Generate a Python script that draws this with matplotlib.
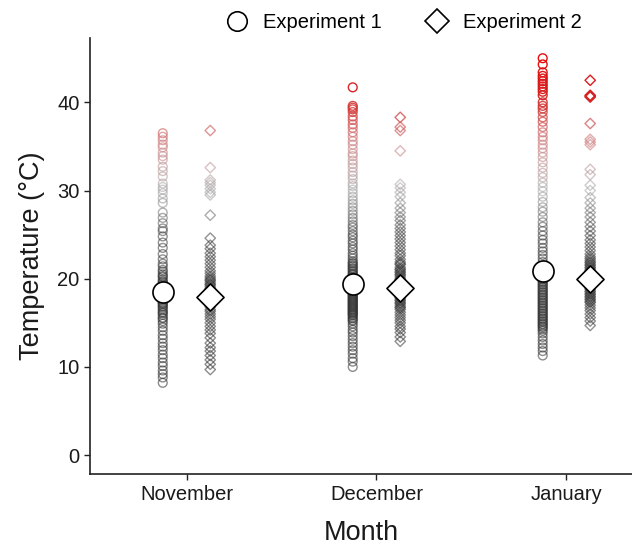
import numpy as np
import matplotlib
matplotlib.use("Agg")
import matplotlib.pyplot as plt
from matplotlib.colors import LinearSegmentedColormap, Normalize
from matplotlib.lines import Line2D

plt.rcParams['font.family'] = ['Liberation Sans', 'DejaVu Sans']

months = ["November", "December", "January"]
experiments = ["Experiment 1", "Experiment 2"]

nov_e1 = [36.5, 36.1, 35.7, 35.2, 34.9, 34.3, 33.9, 33.5, 32.7, 32.2, 31.6, 30.8, 30.4, 30.1,
          29.7, 29.1, 28.6, 27.5, 26.9, 26.3, 25.7, 25.4, 24.8, 24.1, 23.5, 22.8, 22.2, 21.7,
          21.4, 21.0, 20.8, 20.5, 20.3, 20.2, 19.9, 19.7, 19.6, 19.4, 19.2, 19.1, 18.9, 18.7,
          18.5, 18.4, 18.2, 18.1, 18.0, 17.8, 17.7, 17.5, 17.3, 17.2, 17.1, 16.9, 16.8, 16.6,
          16.4, 16.2, 16.1, 15.9, 15.6, 15.5, 15.2, 14.9, 14.5, 14.1, 13.6, 13.2, 12.7, 12.3,
          11.9, 11.4, 11.0, 10.5, 10.1, 9.6, 9.2, 8.8, 8.2]
nov_e2 = [36.8, 32.6, 31.2, 30.9, 30.6, 30.2, 29.8, 29.5, 27.2, 24.6, 23.8, 23.4, 22.9, 22.5,
          22.1, 21.7, 21.3, 20.9, 20.6, 20.3, 20.1, 19.9, 19.8, 19.6, 19.4, 19.3, 19.1, 18.9,
          18.8, 18.6, 18.4, 18.3, 18.2, 17.9, 17.8, 17.7, 17.5, 17.3, 17.1, 17.0, 16.8, 16.5,
          16.3, 16.0, 15.7, 15.4, 15.0, 14.6, 14.2, 13.8, 13.3, 12.7, 12.2, 11.8, 11.3, 10.8,
          10.3, 9.7]
dec_e1 = [41.7, 39.6, 39.4, 39.2, 38.9, 38.4, 38.0, 37.5, 37.1, 36.6, 36.1, 35.6, 35.2, 34.7,
          34.2, 33.9, 33.4, 33.0, 32.6, 32.1, 31.7, 31.3, 30.8, 30.5, 30.1, 29.7, 29.3, 28.9,
          28.5, 28.1, 27.7, 27.3, 26.9, 26.5, 26.1, 25.8, 25.4, 25.0, 24.7, 24.3, 24.0, 23.6,
          23.3, 22.9, 22.6, 22.3, 22.0, 21.8, 21.7, 21.5, 21.4, 21.2, 21.1, 20.9, 20.8, 20.6,
          20.5, 20.4, 20.2, 20.1, 19.9, 19.8, 19.7, 19.5, 19.4, 19.3, 19.2, 19.0, 18.9, 18.8,
          18.7, 18.6, 18.5, 18.4, 18.3, 18.2, 18.1, 18.0, 17.9, 17.8, 17.7, 17.6, 17.5, 17.4,
          17.3, 17.2, 17.1, 17.0, 16.9, 16.8, 16.7, 16.6, 16.5, 16.4, 16.3, 16.2, 16.1, 16.0,
          15.9, 15.8, 15.6, 15.5, 15.3, 15.2, 14.9, 14.6, 14.2, 13.9, 13.5, 13.1, 12.7, 12.3,
          11.9, 11.5, 11.0, 10.6, 10.0]
dec_e2 = [38.3, 37.2, 36.8, 34.5, 30.7, 30.3, 29.8, 29.3, 28.6, 28.0, 27.5, 27.0, 26.6, 26.1,
          25.7, 25.3, 24.9, 24.5, 24.1, 23.7, 23.3, 22.9, 22.6, 22.2, 21.9, 21.7, 21.6, 21.3,
          21.1, 21.0, 20.8, 20.7, 20.5, 20.4, 20.2, 20.0, 19.9, 19.8, 19.7, 19.5, 19.4, 19.3,
          19.2, 19.0, 18.9, 18.7, 18.6, 18.5, 18.3, 18.2, 18.0, 17.9, 17.8, 17.6, 17.5, 17.3,
          17.2, 17.0, 16.8, 16.7, 16.5, 16.2, 15.9, 15.6, 15.3, 15.0, 14.6, 14.3, 13.9, 13.4,
          12.9]
jan_e1 = [45.0, 44.3, 43.4, 43.0, 42.7, 42.4, 42.1, 41.8, 41.5, 41.2, 40.8, 40.0, 39.6, 39.3,
          38.9, 38.3, 37.8, 37.2, 36.6, 36.1, 35.7, 35.2, 34.8, 34.3, 33.8, 33.2, 32.6, 32.0,
          31.5, 30.9, 30.4, 29.9, 29.3, 28.7, 28.1, 27.6, 27.0, 26.4, 25.9, 25.4, 24.9, 24.4,
          24.0, 23.5, 23.1, 22.7, 22.3, 21.9, 21.5, 21.2, 20.9, 20.7, 20.5, 20.3, 20.2, 20.0,
          19.9, 19.7, 19.6, 19.4, 19.3, 19.1, 19.0, 18.8, 18.7, 18.5, 18.4, 18.2, 18.1, 17.9,
          17.8, 17.6, 17.5, 17.3, 17.2, 17.0, 16.9, 16.7, 16.6, 16.4, 16.3, 16.1, 16.0, 15.8,
          15.7, 15.5, 15.4, 15.2, 15.1, 14.9, 14.8, 14.6, 14.5, 14.3, 14.1, 13.8, 13.4, 13.0,
          12.6, 12.2, 11.8, 11.3]
jan_e2 = [42.5, 40.8, 40.7, 40.6, 37.6, 35.8, 35.5, 35.2, 32.4, 31.8, 30.6, 30.0, 29.2, 28.6,
          28.0, 27.5, 27.0, 26.4, 25.9, 25.4, 24.9, 24.4, 24.0, 23.6, 23.2, 22.8, 22.5, 22.3,
          22.1, 21.9, 21.8, 21.6, 21.5, 21.3, 21.2, 21.0, 20.9, 20.7, 20.6, 20.4, 20.3, 20.1,
          20.0, 19.8, 19.7, 19.5, 19.4, 19.2, 19.1, 18.9, 18.8, 18.6, 18.5, 18.3, 18.2, 18.0,
          17.9, 17.7, 17.6, 17.4, 17.3, 17.0, 16.7, 16.4, 16.0, 15.6, 15.2, 14.7]

means_e1 = [18.5, 19.4, 20.9]
means_e2 = [17.9, 18.9, 20.0]

data_e1 = [nov_e1, dec_e1, jan_e1]
data_e2 = [nov_e2, dec_e2, jan_e2]

vmin, vmax = 8.0, 45.0
stops = [(8.0, '#2e2e2e'), (25.0, '#3a3a3a'), (30.0, '#a8a8a8'),
         (35.0, '#cf8a8a'), (40.5, '#d42020'), (45.0, '#e60000')]
cmap = LinearSegmentedColormap.from_list(
    'temp', [((v - vmin) / (vmax - vmin), c) for v, c in stops])
norm = Normalize(vmin, vmax)

fig = plt.figure(figsize=(6.32, 5.5), dpi=100)
ax = fig.add_axes([0.1424, 0.138, 0.8576, 0.793])

offset = 0.125
for i in range(3):
    for data, dx, mk, sz in [(data_e1[i], -offset, 'o', 40), (data_e2[i], offset, 'D', 28)]:
        vals = np.array(data)
        cols = cmap(norm(vals))
        cols[:, 3] = np.interp(vals, [8, 30, 36, 41], [0.55, 0.55, 0.65, 0.95])
        ax.scatter(np.full(len(vals), i + dx), vals, marker=mk, s=sz,
                   facecolors='none', edgecolors=cols, linewidths=1.0, zorder=2)

x = np.arange(3)
ax.scatter(x - offset, means_e1, marker='o', s=230, facecolor='white',
           edgecolor='black', linewidth=1.2, zorder=5)
ax.scatter(x + offset, means_e2, marker='D', s=190, facecolor='white',
           edgecolor='black', linewidth=1.2, zorder=5)

ax.set_xlim(-0.508, 2.345)
ax.set_ylim(-2.15, 47.3)
ax.set_xticks(x)
ax.set_xticklabels(months)
ax.set_yticks([0, 10, 20, 30, 40])
for s in ['top', 'right']:
    ax.spines[s].set_visible(False)
for s in ['left', 'bottom']:
    ax.spines[s].set_linewidth(1.2)
    ax.spines[s].set_color('#222222')
ax.tick_params(axis='both', labelsize=14.5, length=4, width=1.0, color='#222222',
               labelcolor='#1a1a1a')
ax.set_xlabel("Month", fontsize=19.5, labelpad=12, color='#1a1a1a')
ax.set_ylabel("Temperature (°C)", fontsize=19.5, labelpad=9, color='#1a1a1a')

handles = [Line2D([], [], marker='o', linestyle='none', markersize=14,
                  markerfacecolor='white', markeredgecolor='black', markeredgewidth=1.2),
           Line2D([], [], marker='D', linestyle='none', markersize=12,
                  markerfacecolor='white', markeredgecolor='black', markeredgewidth=1.2)]
fig.legend(handles, experiments, loc='upper center', bbox_to_anchor=(0.632, 1.01),
           ncol=2, frameon=False, fontsize=14.5, handletextpad=0.3, columnspacing=1.75)

fig.savefig("out.png", dpi=100)
